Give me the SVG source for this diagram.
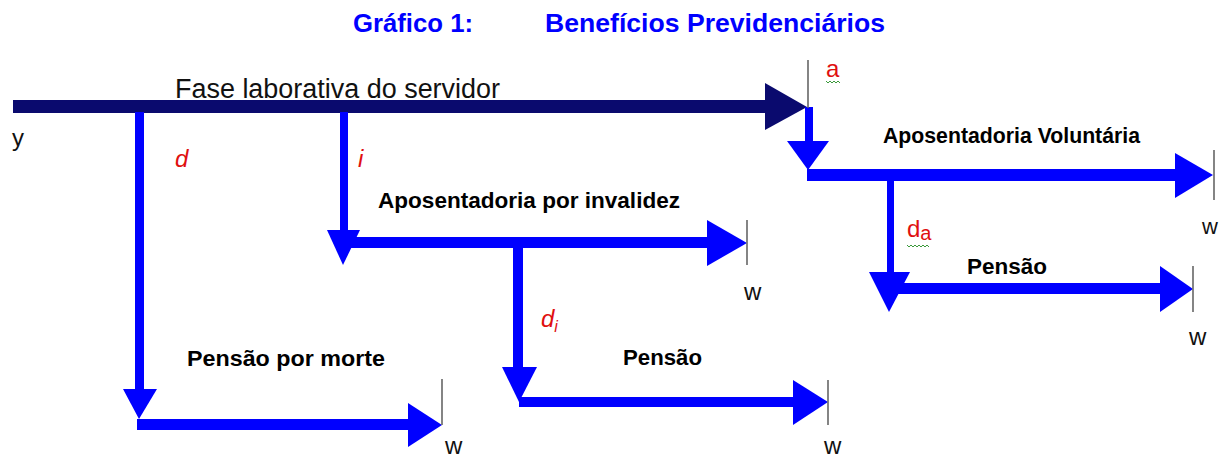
<svg xmlns="http://www.w3.org/2000/svg" width="1222" height="461" viewBox="0 0 1222 461">
<style>
.title{font-family:"Liberation Sans",Arial,sans-serif;font-weight:bold;font-size:25px;fill:#0000ff}
.lbl{font-family:"Liberation Sans",Arial,sans-serif;font-weight:bold;font-size:22px;fill:#000}
.plain{font-family:"Liberation Sans",Arial,sans-serif;font-size:24px;fill:#111}
.red{font-family:"Liberation Sans",Arial,sans-serif;font-size:24px;fill:#e01010}
.it{font-style:italic}
.sub{font-size:16px}
.navy{fill:#0a0a6e}
.blue{fill:#0000ff}
.tick{stroke:#666;stroke-width:1.6;fill:none}
.sq{stroke:#3a9a3a;stroke-width:1;fill:none}
</style>
<rect width="1222" height="461" fill="#fff"/>
<g id="title">
<text class="title" x="353" y="32" textLength="120" lengthAdjust="spacingAndGlyphs">Gráfico 1:</text>
<text class="title" x="545" y="32" textLength="340" lengthAdjust="spacingAndGlyphs">Benefícios Previdenciários</text>
</g>
<g id="connectors">
<!-- main phase -->
<rect class="navy" x="13" y="100" width="757" height="13"/>
<polygon class="navy" points="765,83 807,107 765,130"/>
<!-- d branch -->
<rect class="blue" x="135" y="112" width="9" height="279"/>
<polygon class="blue" points="123,389 157,389 139,419"/>
<rect class="blue" x="137" y="419" width="274" height="11"/>
<polygon class="blue" points="408,403 442,425 408,447"/>
<!-- i branch -->
<rect class="blue" x="340" y="112" width="8" height="120"/>
<polygon class="blue" points="327,230 360,230 343,265"/>
<rect class="blue" x="343" y="237" width="367" height="11"/>
<polygon class="blue" points="707,220 747,243 707,266"/>
<!-- d_i branch -->
<rect class="blue" x="513" y="247" width="10" height="122"/>
<polygon class="blue" points="502,367 537,367 519,402"/>
<rect class="blue" x="519" y="397" width="277" height="10"/>
<polygon class="blue" points="793,380 828,402 793,425"/>
<!-- a branch -->
<rect class="blue" x="805" y="107" width="8" height="36"/>
<polygon class="blue" points="787,141 829,141 808,170"/>
<rect class="blue" x="807" y="169" width="371" height="12"/>
<polygon class="blue" points="1175,153 1213,175 1175,198"/>
<!-- d_a branch -->
<rect class="blue" x="887" y="180" width="7" height="94"/>
<polygon class="blue" points="869,272 910,272 889,312"/>
<rect class="blue" x="889" y="283" width="274" height="11"/>
<polygon class="blue" points="1160,266 1193,289 1160,312"/>
<!-- ticks -->
<line class="tick" x1="808" y1="60" x2="808" y2="108"/>
<line class="tick" x1="747" y1="220" x2="747" y2="265"/>
<line class="tick" x1="442" y1="379" x2="442" y2="425"/>
<line class="tick" x1="828" y1="380" x2="828" y2="425"/>
<line class="tick" x1="1214" y1="150" x2="1214" y2="200"/>
<line class="tick" x1="1193" y1="266" x2="1193" y2="312"/>
</g>
<g id="node-fase">
<text class="plain" x="175" y="98" style="font-size:27px" textLength="325" lengthAdjust="spacingAndGlyphs">Fase laborativa do servidor</text>
<text class="plain" x="12" y="146">y</text>
</g>
<g id="node-d">
<text class="red it" x="175" y="167">d</text>
</g>
<g id="node-i">
<text class="red it" x="358" y="167">i</text>
</g>
<g id="node-invalidez">
<text class="lbl" x="378" y="208" textLength="302" lengthAdjust="spacingAndGlyphs">Aposentadoria por invalidez</text>
<text class="plain" x="744" y="300">w</text>
</g>
<g id="node-morte">
<text class="lbl" x="187" y="366" textLength="198" lengthAdjust="spacingAndGlyphs">Pensão por morte</text>
<text class="plain" x="445" y="454">w</text>
</g>
<g id="node-di">
<text class="red it" x="541" y="327">d<tspan class="sub" dy="5">i</tspan></text>
</g>
<g id="node-pensao-i">
<text class="lbl" x="623" y="365" textLength="79" lengthAdjust="spacingAndGlyphs">Pensão</text>
<text class="plain" x="824" y="454">w</text>
</g>
<g id="node-a">
<text class="red" x="826" y="77">a</text>
<path class="sq" d="M826,81 l2,2 l2,-2 l2,2 l2,-2 l2,2 l2,-2 l2,2"/>
</g>
<g id="node-voluntaria">
<text class="lbl" x="883" y="143" textLength="257" lengthAdjust="spacingAndGlyphs">Aposentadoria Voluntária</text>
<text class="plain" x="1202" y="234" style="font-size:22px">w</text>
</g>
<g id="node-da">
<text class="red" x="907" y="237">d<tspan class="sub" dy="3" style="font-size:20px">a</tspan></text>
<path class="sq" d="M907,245 l2,2 l2,-2 l2,2 l2,-2 l2,2 l2,-2 l2,2 l2,-2 l2,2 l2,-2 l2,2"/>
</g>
<g id="node-pensao-a">
<text class="lbl" x="967" y="274" textLength="80" lengthAdjust="spacingAndGlyphs">Pensão</text>
<text class="plain" x="1189" y="345">w</text>
</g>
</svg>
